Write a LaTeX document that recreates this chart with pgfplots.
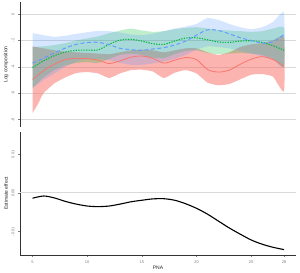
\documentclass[border=0pt]{standalone}
\usepackage{pgfplots}
\pgfplotsset{compat=1.18}
\usepackage{fontspec}
\setmainfont{Liberation Sans}
\definecolor{gred}{HTML}{F8766D}
\definecolor{ggreen}{HTML}{00BA38}
\definecolor{gblue}{HTML}{619CFF}
\definecolor{gridc}{HTML}{D9D9D9}
\definecolor{tickc}{HTML}{7F7F7F}

% ribbons: upper bound from x=5 to 28, then lower bound back from 28 to 5
\pgfplotstableread{
x y
5 -2.45
6 -2.60
7 -2.75
8 -2.85
9 -2.90
10 -2.95
11 -3.00
12 -3.05
13 -2.90
14 -2.75
15 -2.70
16 -2.75
17 -2.90
18 -2.75
19 -2.60
20 -2.60
21 -2.90
22 -3.10
23 -2.90
24 -2.50
25 -2.30
26 -2.20
27 -2.00
28 -1.75
28 -5.85
27 -4.75
26 -4.55
25 -4.60
24 -4.95
23 -5.30
22 -5.40
21 -5.20
20 -4.50
19 -4.25
18 -4.45
17 -4.85
16 -4.35
15 -4.22
14 -4.25
13 -4.50
12 -4.85
11 -4.50
10 -4.40
9 -4.47
8 -4.80
7 -5.25
6 -6.00
5.5 -6.80
5 -7.50
}\redrib

\pgfplotstableread{
x y
5 -2.50
6 -2.45
7 -2.35
8 -2.20
9 -2.00
10 -1.85
11 -1.70
12 -1.45
13 -1.25
14 -1.10
15 -1.25
16 -1.35
17 -1.30
18 -1.15
19 -1.05
20 -1.00
21 -1.10
22 -1.20
23 -1.25
24 -1.30
25 -1.35
26 -1.30
27 -1.10
28 -1.05
28 -4.00
27 -3.40
26 -3.10
25 -3.00
24 -2.95
23 -3.00
22 -3.05
21 -2.95
20 -2.75
19 -2.80
18 -3.05
17 -3.35
16 -3.30
15 -3.10
14 -3.00
13 -3.10
12 -3.40
11 -3.70
10 -3.65
9 -3.70
8 -3.90
7 -4.25
6 -4.80
5 -5.60
}\greenrib

\pgfplotstableread{
x y
5 -1.45
6 -1.60
7 -1.72
8 -1.65
9 -1.50
10 -1.38
11 -1.27
12 -1.30
13 -1.40
14 -1.55
15 -1.60
16 -1.50
17 -1.30
18 -1.10
19 -0.95
20 -0.75
21 -0.30
22 -0.45
23 -0.75
24 -1.00
25 -1.15
26 -1.00
27 -0.60
28 0.10
28 -4.00
27 -3.40
26 -3.20
25 -3.00
24 -2.80
23 -2.60
22 -2.50
21 -2.45
20 -2.70
19 -3.10
18 -3.40
17 -3.60
16 -3.75
15 -3.85
14 -3.85
13 -3.70
12 -3.50
11 -3.40
10 -3.40
9 -3.60
8 -4.00
7 -4.50
6 -5.00
5 -5.60
}\bluerib

\pgfplotstableread{
x   rm     bm     gm
5   -4.95  -3.72  -4.05
6   -4.30  -3.35  -3.55
7   -3.80  -2.95  -3.15
8   -3.45  -2.58  -2.88
9   -3.36  -2.30  -2.75
10  -3.38  -2.16  -2.73
11  -3.50  -2.15  -2.72
12  -3.75  -2.32  -2.30
13  -3.55  -2.60  -1.98
14  -3.27  -2.70  -1.92
15  -3.18  -2.75  -2.05
16  -3.35  -2.65  -2.25
17  -3.72  -2.55  -2.30
18  -3.50  -2.35  -2.05
19  -3.30  -2.05  -1.82
20  -3.45  -1.60  -1.80
21  -4.20  -1.20  -1.95
22  -4.40  -1.25  -2.12
23  -4.25  -1.50  -2.15
24  -3.81  -1.80  -2.05
25  -3.42  -2.00  -2.03
26  -3.23  -2.20  -2.15
27  -3.45  -2.10  -2.40
28  -3.95  -1.55  -2.75
}\comp

\pgfplotstableread{
x   est
5   -0.00138
6   -0.00080
7   -0.00130
8   -0.00220
9   -0.00290
10  -0.00340
11  -0.00355
12  -0.00340
13  -0.00290
14  -0.00230
15  -0.00190
16  -0.00155
17  -0.00150
18  -0.00190
19  -0.00280
20  -0.00400
21  -0.00550
22  -0.00730
23  -0.00910
24  -0.01070
25  -0.01220
26  -0.01330
27  -0.01410
28  -0.01470
}\eff

\pgfplotsset{
  myax/.style={
    scale only axis, width=276pt, anchor=south west,
    xmin=3.85, xmax=29.1,
    axis line style={-, line width=0.6pt, color=black!80},
    tick align=outside, major tick length=2pt,
    tick style={color=tickc, line width=0.4pt},
    tick label style={font=\fontsize{4}{5}\selectfont, color=tickc},
    label style={font=\fontsize{5}{6}\selectfont, color=black!85},
    /pgf/number format/assume math mode=true,
    y tick label style={rotate=90, anchor=south},
  }
}

\begin{document}
\begin{tikzpicture}
% top panel
\begin{axis}[myax,
  at={(20pt,146pt)}, height=125pt,
  ymin=-8.56, ymax=0.91,
  axis x line=none, axis y line*=left,
  ytick={0,-2,-4,-6,-8}, yticklabels={0,-2,-4,-6,-8},
  ymajorgrids, grid style={color=gridc, line width=0.6pt},
  ylabel={Log composition},
  ylabel style={at={(axis description cs:-0.05,0.5)}, anchor=center},
]
\addplot[fill=gred, fill opacity=0.55, draw=none, smooth, tension=0.3] table[x=x,y=y]{\redrib} -- cycle;
\addplot[fill=ggreen, fill opacity=0.25, draw=none, smooth, tension=0.3] table[x=x,y=y]{\greenrib} -- cycle;
\addplot[fill=gblue, fill opacity=0.25, draw=none, smooth, tension=0.3] table[x=x,y=y]{\bluerib} -- cycle;
\addplot[gred, line width=0.8pt, smooth] table[x=x,y=rm]{\comp};
\addplot[ggreen, line width=1.1pt, smooth, dash pattern=on 1.3pt off 1.3pt] table[x=x,y=gm]{\comp};
\addplot[gblue, line width=1.0pt, smooth, dash pattern=on 4pt off 2.5pt] table[x=x,y=bm]{\comp};
\end{axis}
% bottom panel
\begin{axis}[myax,
  at={(20pt,18pt)}, height=123pt,
  ymin=-0.0161, ymax=0.0158,
  axis lines*=left,
  xtick={5,10,15,20,25,28},
  xticklabels={5,10,15,20,25,28},
  ytick={-0.01,0,0.01}, yticklabels={-0.01,0.00,0.01},
  scaled y ticks=false,
  xlabel={PNA},
  xlabel style={at={(axis description cs:0.5,-0.105)}, anchor=center},
  ylabel={Estimate effect},
  ylabel style={at={(axis description cs:-0.05,0.5)}, anchor=center},
]
\addplot[gridc, line width=1.1pt] coordinates {(3.85,0) (29.1,0)};
\addplot[black, line width=1.1pt, smooth] table[x=x,y=est]{\eff};
\end{axis}
\path (0,0) (300pt,273pt);
\end{tikzpicture}
\end{document}
